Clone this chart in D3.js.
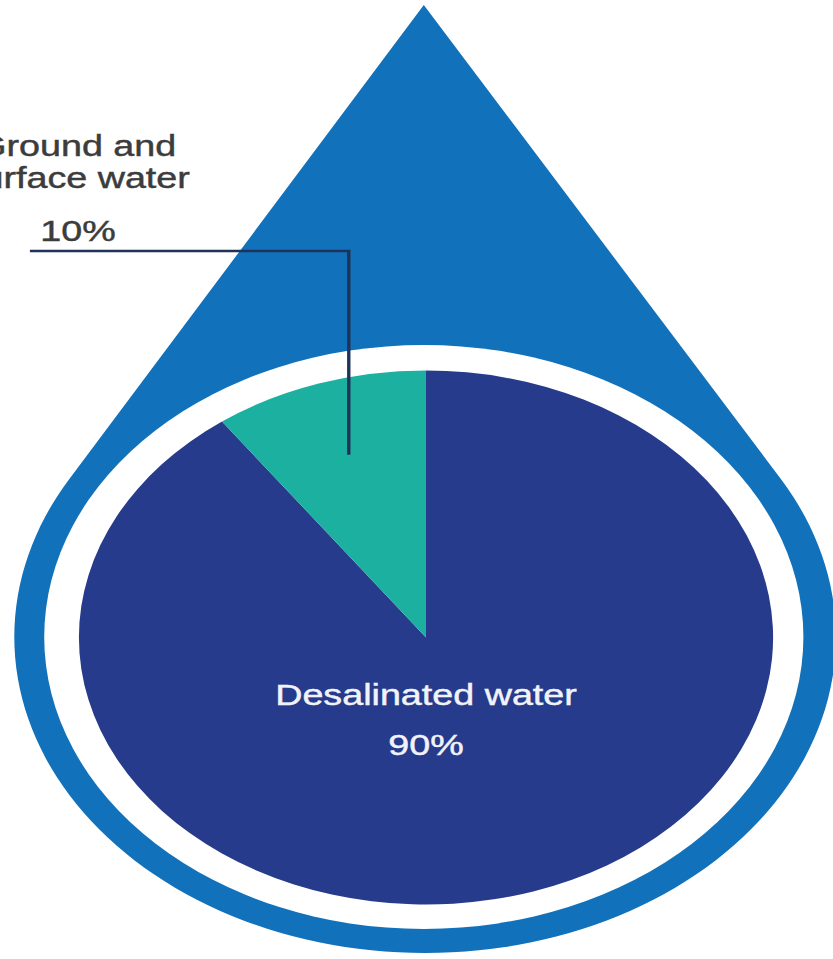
<!DOCTYPE html>
<html>
<head>
<meta charset="utf-8">
<script src="https://cdn.jsdelivr.net/npm/d3@7"></script>
<style>
  html, body { margin: 0; padding: 0; background: #ffffff; }
  svg { display: block; }
</style>
</head>
<body>
<svg id="chart" width="833" height="959"></svg>
<script>
// Sources of water supply (share of total, %)
const categories = ["Desalinated water", "Ground and surface water"];
const shares = [90, 10];
const labelLines = [["Desalinated water"], ["Ground and", "surface water"]];
const valueLabels = ["90%", "10%"];

const W = 833, H = 959;
const SX = 1.3;                 // horizontal stretch of the whole graphic
const cx = 327, cy = 637;       // centre of the drop (unstretched units)
const R_DROP = 316, R_RING = 292, R_PIE = 267;

const colors = {
  drop: "#1171bb",
  ring: "#ffffff",
  slices: ["#263b8b", "#1cb0a0"],
  leader: "#1f3358",
  label: "#3c3c3c",
  inner: "#f2f3fa"
};

const svg = d3.select("#chart");
const g = svg.append("g").attr("transform", `scale(${SX},1)`);

// Drop outline: tip, two tangent lines and the round bottom
const tip = [cx - 1, cy - 2 * R_DROP];
const aL = Math.PI + Math.PI / 6, aR = -Math.PI / 6;
const drop = d3.path();
drop.moveTo(tip[0], tip[1]);
drop.lineTo(cx + R_DROP * Math.cos(aL), cy + R_DROP * Math.sin(aL));
drop.arc(cx, cy, R_DROP, aL, aR, true);
drop.closePath();
g.append("path").attr("d", drop.toString()).attr("fill", colors.drop);

// White ring between drop and pie
g.append("circle")
  .attr("cx", cx - 1).attr("cy", cy)
  .attr("r", R_RING)
  .attr("fill", colors.ring);

// Pie
const pie = d3.pie().sort(null).value(d => d);
const arcs = pie(shares);
const arc = d3.arc().innerRadius(0).outerRadius(R_PIE);
const pieG = g.append("g").attr("transform", `translate(${cx + 0.7},${cy + 0.5})`);
pieG.selectAll("path.slice")
  .data(arcs)
  .join("path")
  .attr("class", "slice")
  .attr("d", arc)
  .attr("fill", (d, i) => colors.slices[i]);

// Leader line from the small slice out to its label
const mid = d3.arc().innerRadius(R_PIE * 0.72).outerRadius(R_PIE * 0.72);
const [mx, my] = mid.centroid(arcs[1]);
const anchor = [cx + 0.7 + mx, cy + 0.5 + my];
const lineY = 251;
g.append("path")
  .attr("d", d3.line()([[23, lineY], [anchor[0], lineY], anchor]))
  .attr("fill", "none")
  .attr("stroke", colors.leader)
  .attr("stroke-width", 2.6);

// Text helper: regular sans with a hairline stroke for a slightly heavier look
const font = "'Liberation Sans', Arial, Helvetica, sans-serif";
function addText(x, y, txt, fill) {
  return g.append("text")
    .attr("x", x).attr("y", y)
    .attr("text-anchor", "middle")
    .attr("font-family", font)
    .attr("font-size", 29)
    .attr("fill", fill)
    .attr("stroke", fill)
    .attr("stroke-width", 0.45)
    .text(txt);
}

// Outside label for the small slice
labelLines[1].forEach((t, i) => addText(59, 156 + i * 32, t, colors.label));
addText(60, 241, valueLabels[1], colors.label);

// Inside label for the large slice
addText(cx + 0.7, 705, labelLines[0][0], colors.inner);
addText(cx + 0.7, 755, valueLabels[0], colors.inner);
</script>
</body>
</html>
